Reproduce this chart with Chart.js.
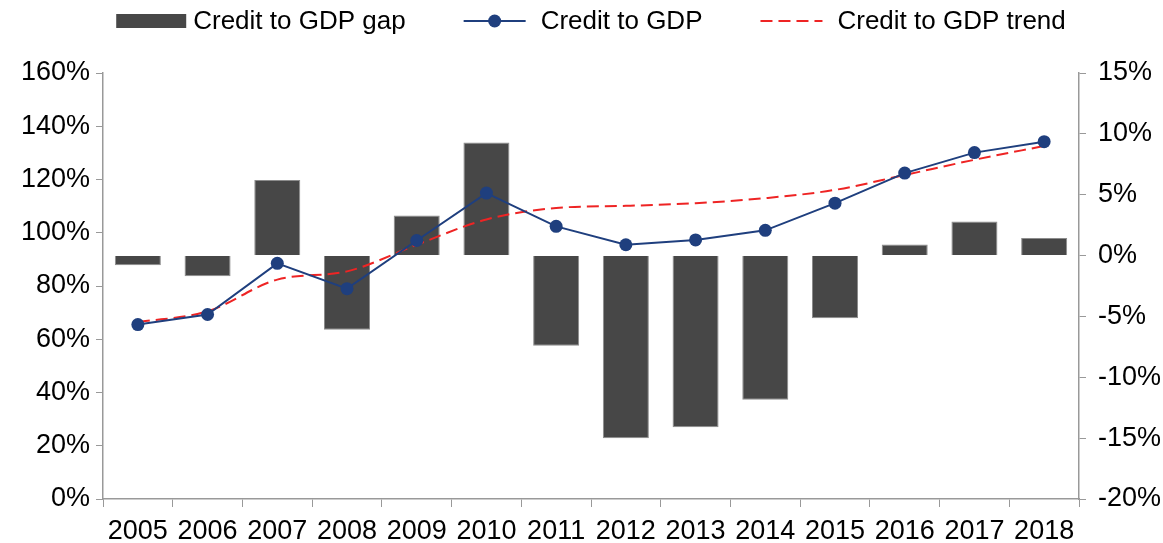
<!DOCTYPE html>
<html>
<head>
<meta charset="utf-8">
<script src="https://cdn.jsdelivr.net/npm/chart.js@4.4.1/dist/chart.umd.min.js"></script>
<style>
  html, body { margin: 0; padding: 0; background: #fff; }
  #wrap { width: 1163px; height: 543px; }
</style>
</head>
<body>
<div id="wrap"><canvas id="myChart"></canvas></div>
<script>
    // values
    const years = ["2005","2006","2007","2008","2009","2010","2011","2012","2013","2014","2015","2016","2017","2018"];
    const creditGap = [-0.8, -1.7, 6.2, -6.1, 3.3, 9.3, -7.4, -15.0, -14.1, -11.85, -5.15, 0.9, 2.8, 1.45];
    const creditToGdp = [65.5, 69.3, 88.5, 79.0, 97.1, 114.9, 102.4, 95.5, 97.3, 100.9, 111.1, 122.4, 130.1, 134.2];
    const creditTrend = [66.4, 70.5, 82.4, 85.5, 95.5, 105.0, 109.3, 110.1, 111.1, 113.0, 116.1, 121.7, 127.4, 132.6];
    const leftTicks = [0, 20, 40, 60, 80, 100, 120, 140, 160];
    const rightTicks = [-20, -15, -10, -5, 0, 5, 10, 15];

    const fontName = "'Liberation Sans', Arial, sans-serif";
    const gapColour = "#474747";
    const lineColour = "#1F3F7E";
    const trendColour = "#EE2424";

    //draws the legend row on top (box, line with dot, dashed line)
    const topLegend = {
        id: "topLegend",
        afterDraw(chart){
            const ctx = chart.ctx;
            ctx.save();
            ctx.font = "26px " + fontName;
            ctx.textBaseline = "middle";
            const items = chart.data.datasets.map(ds => ds.label);
            const symW = 70, gapTxt = 7, spacing = 58;
            let widths = items.map(t => symW + gapTxt + ctx.measureText(t).width);
            let total = widths.reduce((a,b)=>a+b,0) + spacing*(items.length-1);
            let mid = (chart.chartArea.left + chart.chartArea.right)/2;
            let x = mid - total/2;
            const y = 21;
            chart.data.datasets.forEach((ds, i) => {
                if (ds.type === "bar"){
                    ctx.fillStyle = gapColour;
                    ctx.fillRect(x, y-7, symW, 14);
                } else {
                    ctx.strokeStyle = ds.borderColor;
                    ctx.lineWidth = 2;
                    ctx.setLineDash(ds.borderDash || []);
                    ctx.beginPath();
                    ctx.moveTo(x, y);
                    ctx.lineTo(x+symW-8, y);
                    ctx.stroke();
                    ctx.setLineDash([]);
                    if (ds.pointRadius > 0){
                        ctx.fillStyle = ds.pointBackgroundColor;
                        ctx.beginPath();
                        ctx.arc(x+(symW-8)/2, y, 6.5, 0, Math.PI*2);
                        ctx.fill();
                    }
                }
                ctx.fillStyle = "#000";
                ctx.fillText(ds.label, x+symW+gapTxt, y+1);
                x += widths[i] + spacing;
            });
            ctx.restore();
        }
    };

    Chart.defaults.font.family = fontName;
    Chart.defaults.font.size = 27;
    Chart.defaults.color = "#000";

    let myChart = new Chart("myChart", {
        data: {
            labels: years,
            datasets: [
            {
                type: "bar",
                label: "Credit to GDP gap",
                data: creditGap,
                yAxisID: "yRight",
                backgroundColor: gapColour,
                borderColor: "#8c8c8c",
                borderWidth: 1,
                barPercentage: 1,
                categoryPercentage: 0.66,
                order: 3
            },
            {
                type: "line",
                label: "Credit to GDP",
                data: creditToGdp,
                yAxisID: "yLeft",
                borderColor: lineColour,
                borderWidth: 2,
                pointRadius: 6.5,
                pointBackgroundColor: lineColour,
                pointBorderColor: lineColour,
                pointBorderWidth: 0,
                order: 1
            },
            {
                type: "line",
                label: "Credit to GDP trend",
                data: creditTrend,
                yAxisID: "yLeft",
                borderColor: trendColour,
                borderWidth: 2,
                borderDash: [12, 6],
                pointRadius: 0,
                cubicInterpolationMode: "monotone",
                order: 2
            }
            ]
        },
        options: {
            responsive: true,
            maintainAspectRatio: false,
            animation: false,
            layout: { padding: { top: 73, left: 0, right: 0, bottom: 0 } },
            plugins: {
                legend: { display: false },
                tooltip: { enabled: false }
            },
            scales: {
                x: {
                    grid: { drawOnChartArea: false, drawTicks: true, tickLength: 8, color: "#999" },
                    border: { display: true, color: "#999", width: 1.5 },
                    ticks: { padding: 8, maxRotation: 0, autoSkip: false },
                    afterFit: s => { s.height = 44; }
                },
                yLeft: {
                    position: "left",
                    min: 0, max: 160,
                    afterBuildTicks: s => { s.ticks = leftTicks.map(v => ({value: v})); },
                    grid: { drawOnChartArea: false, drawTicks: true, tickLength: 7, color: "#999" },
                    border: { display: true, color: "#999", width: 1.5 },
                    ticks: { padding: 6, callback: v => v + "%" },
                    afterFit: s => { s.width = 103; }
                },
                yRight: {
                    position: "right",
                    min: -20, max: 15,
                    afterBuildTicks: s => { s.ticks = rightTicks.map(v => ({value: v})); },
                    grid: { drawOnChartArea: false, drawTicks: true, tickLength: 7, color: "#999" },
                    border: { display: true, color: "#999", width: 1.5 },
                    ticks: { padding: 12, callback: v => v + "%" },
                    afterFit: s => { s.width = 84; }
                }
            }
        },
        plugins: [topLegend]
    });
</script>
</body>
</html>
